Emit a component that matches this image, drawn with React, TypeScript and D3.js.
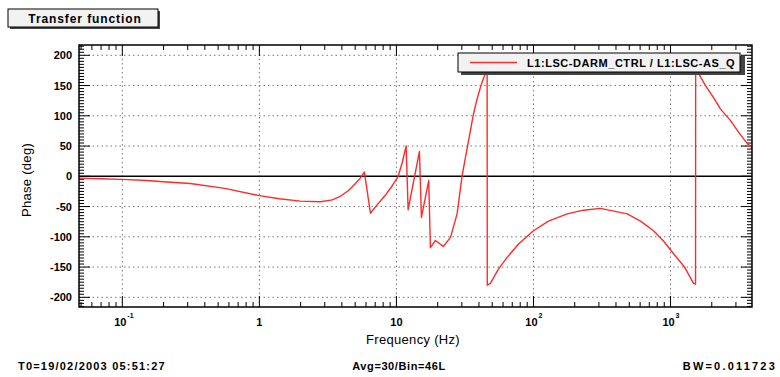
import React from "react";
import * as d3 from "d3";

const freq = [0.0483, 0.07, 0.1, 0.15, 0.2, 0.313, 0.56, 1.0, 1.4, 1.99, 2.79, 3.4, 3.9, 4.5, 5.02, 5.45, 5.84, 6.46, 7.3, 8.32, 9.3, 10.3, 11.0, 11.77, 12.17, 14.72, 15.22, 17.2, 17.7, 19.26, 22.0, 24.8, 27.7, 30.2, 33.6, 36.5, 38.7, 41.0, 43.2, 44.7, 45.9, 46.0, 48.5, 55.6, 64.3, 77.8, 100, 128.6, 176, 231.7, 308, 483, 604, 752, 889, 1052, 1265, 1472, 1522, 1525, 1600, 1800, 2060, 2317, 2740, 3135, 3630, 3970];
const phase = [-3, -4, -5, -7, -9, -12, -20, -32, -37, -41, -42, -39, -33, -23, -12, -3, 7, -61, -46, -31, -16, 0, 22, 50, -55, 41, -68, -7, -118, -106, -116, -101, -62, 2, 59, 103, 127, 147, 162, 170, 180, -180, -177, -153, -134, -112, -90, -74, -62, -56, -53, -62, -74, -90, -107, -128, -150, -177, -178, 180, 170, 150, 130, 111, 92, 73, 54, 46];

const yTicks = [200, 150, 100, 50, 0, -50, -100, -150, -200];
const xMajor = [0.1, 1, 10, 100, 1000];
const xLabels = [
  { base: "10", exp: "-1" },
  { base: "1", exp: "" },
  { base: "10", exp: "" },
  { base: "10", exp: "2" },
  { base: "10", exp: "3" },
];

const titleText = "Transfer function";
const legendText = "L1:LSC-DARM_CTRL / L1:LSC-AS_Q";
const yLabel = "Phase (deg)";
const xLabel = "Frequency (Hz)";
const footLeft = "T0=19/02/2003 05:51:27";
const footMid = "Avg=30/Bin=46L";
const footRight = "BW=0.011723";

const W = 780, H = 377;
const L = 79, R = 752, T = 45, B = 307;
const FONT = "'Liberation Sans', Arial, Helvetica, sans-serif";

export default function App() {
  const x = d3.scaleLog().domain([0.0483, 3930]).range([L, R]);
  const y = d3.scaleLinear().domain([-216, 217]).range([B, T]);
  const line = d3.line<number>().x((_, i) => x(freq[i])).y((d) => y(d));

  const minorX: number[] = [];
  for (let e = -2; e <= 3; e++) {
    for (let m = 2; m <= 9; m++) {
      const v = m * Math.pow(10, e);
      if (v >= 0.0483 && v <= 3930) minorX.push(v);
    }
  }
  const minorY: number[] = [];
  for (let v = -215; v <= 215; v += 5) if (v % 50 !== 0) minorY.push(v);

  return (
    <svg width={W} height={H} style={{ position: "absolute", left: 0, top: 0, background: "#fff" }} fontFamily={FONT}>
      <defs>
        <clipPath id="plot"><rect x={L} y={T} width={R - L} height={B - T} /></clipPath>
        <clipPath id="leg"><rect x={459} y={53} width={277} height={19} /></clipPath>
      </defs>
      <rect x={0} y={0} width={W} height={H} fill="#fff" />
      {/* title box */}
      <rect x={10} y={11} width={150} height={18} fill="#444" />
      <rect x={8} y={9} width={150} height={18} fill="#f2f2f2" stroke="#000" strokeWidth={1} />
      <text x={85} y={22.5} textAnchor="middle" fontSize={12} fontWeight="bold" letterSpacing={0.9}>{titleText}</text>

      {/* grid */}
      <g stroke="#777" strokeWidth={1} strokeDasharray="1.5,3">
        {xMajor.map((v) => <line key={"gx" + v} x1={x(v)} x2={x(v)} y1={T} y2={B} />)}
        {yTicks.filter((v) => v !== 0).map((v) => <line key={"gy" + v} x1={L} x2={R} y1={y(v)} y2={y(v)} />)}
      </g>
      <line x1={L} x2={R} y1={y(0)} y2={y(0)} stroke="#000" strokeWidth={1.5} />

      {/* ticks */}
      <g stroke="#000" strokeWidth={1}>
        {xMajor.map((v) => (
          <g key={"tx" + v}>
            <line x1={x(v)} x2={x(v)} y1={B} y2={B - 11} />
            <line x1={x(v)} x2={x(v)} y1={T} y2={T + 11} />
          </g>
        ))}
        {minorX.map((v) => (
          <g key={"mx" + v}>
            <line x1={x(v)} x2={x(v)} y1={B} y2={B - 5} />
            <line x1={x(v)} x2={x(v)} y1={T} y2={T + 5} />
          </g>
        ))}
        {yTicks.map((v) => (
          <g key={"ty" + v}>
            <line x1={L} x2={L + 11} y1={y(v)} y2={y(v)} />
            <line x1={R} x2={R - 11} y1={y(v)} y2={y(v)} />
          </g>
        ))}
        {minorY.map((v) => (
          <g key={"my" + v}>
            <line x1={L} x2={L + 5} y1={y(v)} y2={y(v)} />
            <line x1={R} x2={R - 5} y1={y(v)} y2={y(v)} />
          </g>
        ))}
      </g>

      {/* curve */}
      <path d={line(phase) || ""} fill="none" stroke="#ff2a2a" strokeWidth={1.4} strokeLinejoin="round" clipPath="url(#plot)" />

      {/* frame */}
      <rect x={L} y={T} width={R - L} height={B - T} fill="none" stroke="#000" strokeWidth={1.5} />

      {/* y tick labels */}
      {yTicks.map((v) => (
        <text key={"yl" + v} x={72} y={y(v) + 4} textAnchor="end" fontSize={11} fontWeight="bold">{v}</text>
      ))}
      {/* x tick labels */}
      {xMajor.map((v, i) => (
        <g key={"xl" + v}>
          <text x={x(v) + (xLabels[i].exp ? -2 : 0)} y={326} textAnchor="middle" fontSize={11} fontWeight="bold">{xLabels[i].base}</text>
          {xLabels[i].exp && <text x={x(v) + 5} y={318} fontSize={7} fontWeight="bold">{xLabels[i].exp}</text>}
        </g>
      ))}

      {/* axis labels */}
      <text x={413} y={344} textAnchor="middle" fontSize={13} letterSpacing={0.3}>{xLabel}</text>
      <text transform={`translate(31,${180}) rotate(-90)`} textAnchor="middle" fontSize={13} letterSpacing={0.3}>{yLabel}</text>

      {/* legend */}
      <rect x={461} y={56} width={284} height={19} fill="#444" />
      <rect x={458} y={53} width={282} height={19} fill="#f2f2f2" stroke="#000" strokeWidth={1} />
      <line x1={470} x2={517} y1={62.5} y2={62.5} stroke="#ff2a2a" strokeWidth={1.5} />
      <g clipPath="url(#leg)">
        <text x={527} y={67} fontSize={11} fontWeight="bold" letterSpacing={0.55}>{legendText}</text>
      </g>

      {/* footer */}
      <text x={18} y={370} fontSize={11} fontWeight="bold" letterSpacing={1.2}>{footLeft}</text>
      <text x={399} y={370} textAnchor="middle" fontSize={11} fontWeight="bold" letterSpacing={0.6}>{footMid}</text>
      <text x={777} y={370} textAnchor="end" fontSize={11} fontWeight="bold" letterSpacing={2.2}>{footRight}</text>
    </svg>
  );
}
